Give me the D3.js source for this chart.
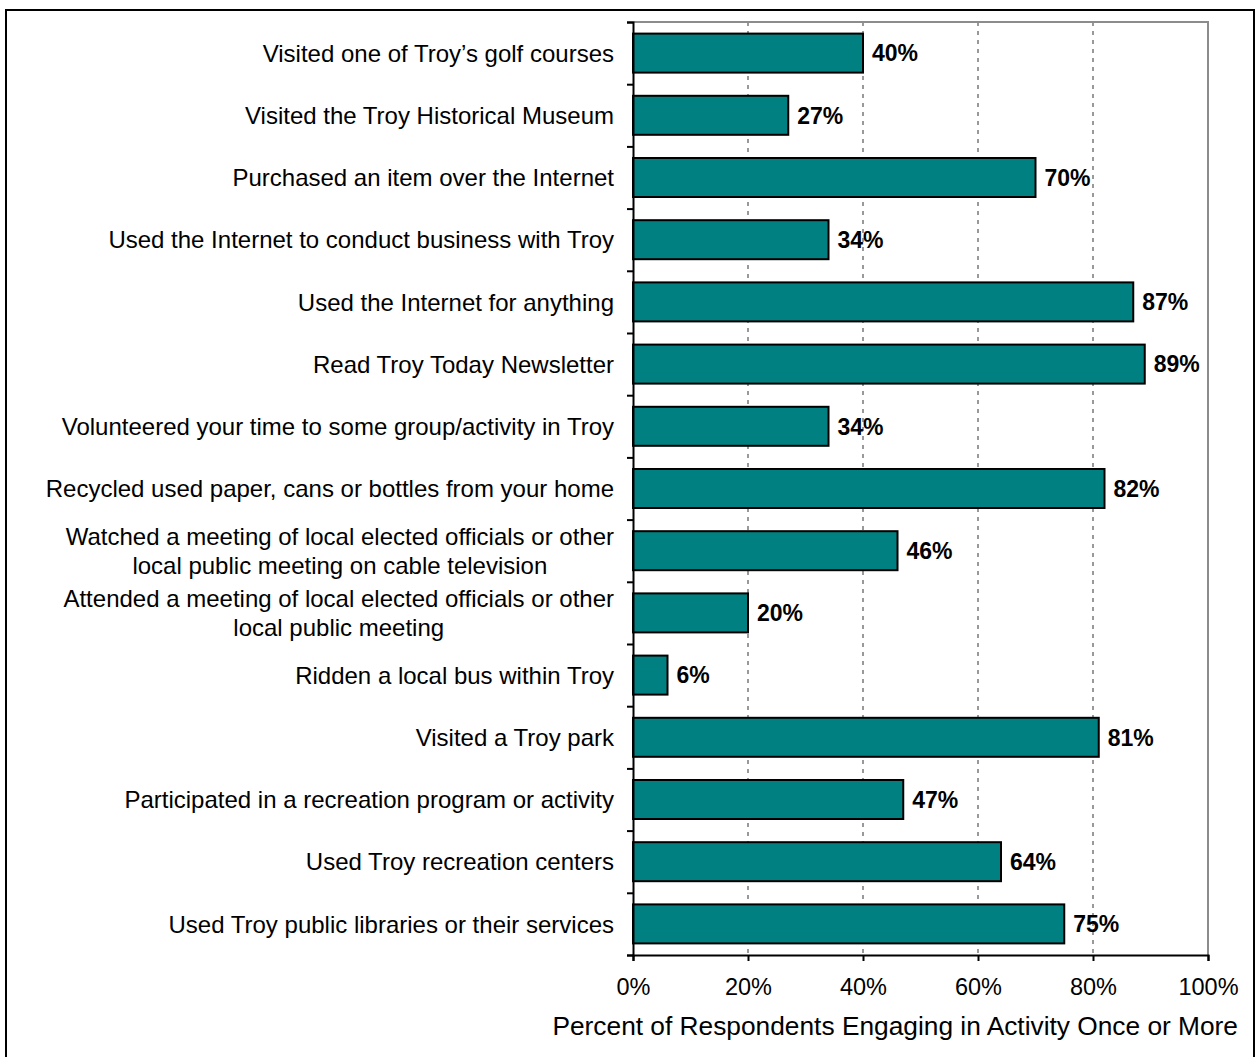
<!DOCTYPE html>
<html>
<head>
<meta charset="utf-8">
<script src="https://cdn.jsdelivr.net/npm/d3@7"></script>
<style>
  body { margin: 0; background: #fff; }
  text { font-family: "Liberation Sans", Arial, sans-serif; fill: #000; }
</style>
</head>
<body>
<div id="chart"></div>
<script>
// activity labels, top to bottom (long ones split in two lines)
const activities = [
  ["Visited one of Troy\u2019s golf courses"],
  ["Visited the Troy Historical Museum"],
  ["Purchased an item over the Internet"],
  ["Used the Internet to conduct business with Troy"],
  ["Used the Internet for anything"],
  ["Read Troy Today Newsletter"],
  ["Volunteered your time to some group/activity in Troy"],
  ["Recycled used paper, cans or bottles from your home"],
  ["Watched a meeting of local elected officials or other", "local public meeting on cable television"],
  ["Attended a meeting of local elected officials or other", "local public meeting"],
  ["Ridden a local bus within Troy"],
  ["Visited a Troy park"],
  ["Participated in a recreation program or activity"],
  ["Used Troy recreation centers"],
  ["Used Troy public libraries or their services"]
];
const percents = [40, 27, 70, 34, 87, 89, 34, 82, 46, 20, 6, 81, 47, 64, 75];
const xTicks = [0, 20, 40, 60, 80, 100];
const axisTitle = "Percent of Respondents Engaging in Activity Once or More";

const W = 1257, H = 1057;
const margin = {top: 22, right: 49, bottom: 102, left: 633};
const width = W - margin.left - margin.right,
      height = H - margin.top - margin.bottom;

const svg = d3.select("#chart").append("svg")
    .attr("width", W)
    .attr("height", H);

// outer frame
svg.append("rect")
    .attr("x", 6).attr("y", 10)
    .attr("width", 1248).attr("height", 1060)
    .attr("fill", "none")
    .attr("stroke", "#000")
    .attr("stroke-width", 2);

const g = svg.append("g")
    .attr("transform", `translate(${margin.left},${margin.top})`);

const x = d3.scaleLinear().domain([0, 100]).range([0, width]);
const idx = d3.range(activities.length);
const y = d3.scaleBand()
    .domain(idx)
    .range([0, height])
    .paddingInner(0.373)
    .paddingOuter(0.1865);

// dashed gridlines
g.selectAll(".grid")
    .data(xTicks.filter(d => d > 0 && d < 100))
    .join("line")
    .attr("x1", d => x(d)).attr("x2", d => x(d))
    .attr("y1", 0).attr("y2", height)
    .attr("stroke", "#999")
    .attr("stroke-width", 2)
    .attr("stroke-dasharray", "4,5");

// top and right border of plot area
g.append("path")
    .attr("d", `M0,0H${x(100)}V${height}`)
    .attr("fill", "none")
    .attr("stroke", "#8c8c8c")
    .attr("stroke-width", 2);

// bars
g.selectAll(".bar")
    .data(percents)
    .join("rect")
    .attr("x", x(0))
    .attr("y", (d, i) => y(i))
    .attr("width", d => x(d) - x(0))
    .attr("height", y.bandwidth())
    .attr("fill", "#008080")
    .attr("stroke", "#000")
    .attr("stroke-width", 2);

// value labels
g.selectAll(".val")
    .data(percents)
    .join("text")
    .attr("x", d => x(d) + 9)
    .attr("y", (d, i) => y(i) + y.bandwidth() / 2)
    .attr("dy", "0.36em")
    .style("font-size", "23px")
    .style("font-weight", "bold")
    .text(d => d + "%");

// y axis: ticks sit between categories
const yEdge = d3.scaleLinear().domain([0, activities.length]).range([0, height]);
g.append("g")
    .call(d3.axisLeft(yEdge).tickValues(d3.range(activities.length + 1)).tickSize(6).tickFormat(""))
    .call(a => a.selectAll("line").attr("stroke", "#000").attr("stroke-width", 2))
    .call(a => a.select(".domain").attr("stroke", "#000").attr("stroke-width", 2));

// category labels
const labelRight = -19;
const lineH = 29;
const labels = g.selectAll(".cat")
    .data(activities)
    .join("text")
    .style("font-size", "24px");
labels.each(function (lines, i) {
  const t = d3.select(this);
  const cy = y(i) + y.bandwidth() / 2;
  const y0 = cy - (lines.length - 1) * lineH / 2;
  lines.forEach((s, k) => {
    t.append("tspan").attr("y", y0 + k * lineH).attr("dy", "0.36em").text(s);
  });
  // right align block, center the lines within it
  const widths = [];
  t.selectAll("tspan").each(function () { widths.push(this.getComputedTextLength()); });
  const maxW = d3.max(widths);
  t.attr("text-anchor", "middle");
  t.selectAll("tspan").attr("x", labelRight - maxW / 2);
});

// x axis
g.append("g")
    .attr("transform", `translate(0,${height})`)
    .call(d3.axisBottom(x).tickValues(xTicks).tickSize(6).tickPadding(17).tickFormat(d => d + "%"))
    .call(a => a.selectAll("line").attr("stroke", "#000").attr("stroke-width", 2))
    .call(a => a.select(".domain").attr("stroke", "#000").attr("stroke-width", 2))
    .call(a => a.selectAll("text")
        .style("font-size", "23.5px")
        .style("font-family", "'Liberation Sans', Arial, sans-serif"));

// axis title
svg.append("text")
    .attr("x", 1238)
    .attr("y", 1035)
    .attr("text-anchor", "end")
    .style("font-size", "26.3px")
    .text(axisTitle);
</script>
</body>
</html>
